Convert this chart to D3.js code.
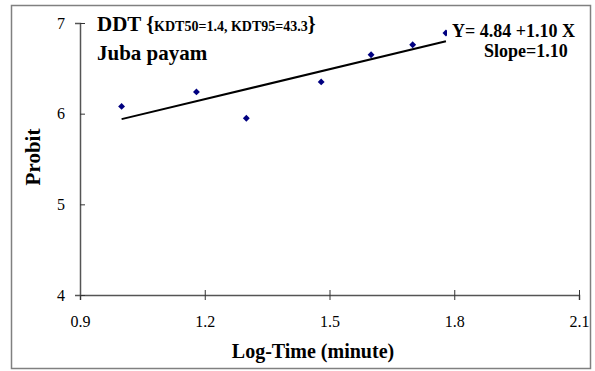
<!DOCTYPE html>
<html>
<head>
<meta charset="utf-8">
<script src="https://cdn.jsdelivr.net/npm/d3@7"></script>
<style>
  body { margin: 0; background: #fff; }
  text { font-family: "Liberation Serif", "Times New Roman", serif; }
</style>
</head>
<body>
<div id="chart"></div>
<script>
// data
const logTime = [1.00, 1.18, 1.30, 1.48, 1.60, 1.70, 1.78];
const probit  = [6.08, 6.24, 5.95, 6.35, 6.65, 6.76, 6.89];
const xTicks = [0.9, 1.2, 1.5, 1.8, 2.1];
const yTicks = [4, 5, 6, 7];
const intercept = 4.84, slope = 1.10;
const fitRange = [1.00, 1.78];

const W = 595, H = 371;
const margin = {top: 23, left: 80};
const width = 579 - margin.left,
      height = 295 - margin.top;

const svg = d3.select("#chart").append("svg")
    .attr("width", W).attr("height", H);

// outer frame
svg.append("rect")
    .attr("x", 11.5).attr("y", 5.5)
    .attr("width", 579).attr("height", 363)
    .attr("fill", "#fff").attr("stroke", "#808080").attr("stroke-width", 1.5);

const g = svg.append("g")
    .attr("transform", `translate(${margin.left}, ${margin.top})`);

const x = d3.scaleLinear().domain([0.9, 2.1]).range([0, width]);
const y = d3.scaleLinear().domain([4, 7]).range([height, 0]);

// axes with crossing ticks like the original
const xAxis = g.append("g")
    .attr("transform", `translate(0, ${height})`)
    .call(d3.axisBottom(x).tickValues(xTicks).tickSize(5).tickFormat(d3.format(".1f")));
xAxis.selectAll(".tick line").attr("y1", -5);
xAxis.selectAll("text").attr("y", 32).attr("dy", 0);

const yAxis = g.append("g")
    .call(d3.axisLeft(y).tickValues(yTicks).tickSize(5).tickFormat(d3.format("d")));
yAxis.selectAll(".tick line").attr("x2", 5);
yAxis.selectAll("text").attr("x", -15);

[xAxis, yAxis].forEach(a => {
  a.select(".domain").attr("stroke", "#555").attr("stroke-width", 1.5);
  a.selectAll(".tick line").attr("stroke", "#333");
  a.selectAll("text")
    .style("font-family", "Liberation Serif, serif")
    .style("font-size", "16px").attr("fill", "#000");
});

// fitted line
const fit = fitRange.map(v => [v, intercept + slope * v]);
g.append("path")
    .datum(fit)
    .attr("fill", "none").attr("stroke", "#000").attr("stroke-width", 2)
    .attr("d", d3.line().x(d => x(d[0])).y(d => y(d[1])));

// points
g.selectAll(".dot")
  .data(logTime.map((v, i) => [v, probit[i]]))
  .enter().append("path")
    .attr("class", "dot")
    .attr("transform", d => `translate(${x(d[0])}, ${y(d[1])})`)
    .attr("d", d3.symbol().type(d3.symbolDiamond2).size(30))
    .attr("fill", "#000080");

// equation label (white box clips the last marker, as in the original)
svg.append("rect")
    .attr("x", 447).attr("y", 22).attr("width", 140).attr("height", 40)
    .attr("fill", "#fff");
svg.append("text")
    .attr("x", 452).attr("y", 37)
    .style("font-size", "18px").style("font-weight", "bold")
    .text("Y= 4.84 +1.10 X");
svg.append("text")
    .attr("x", 484).attr("y", 57)
    .style("font-size", "18px").style("font-weight", "bold")
    .text("Slope=1.10");

// title
const t = svg.append("text")
    .attr("x", 97).attr("y", 31)
    .style("font-weight", "bold");
t.append("tspan").style("font-size", "21px").text("DDT ");
t.append("tspan").style("font-size", "20px").text("{");
t.append("tspan").style("font-size", "14px").text("KDT50=1.4, KDT95=43.3");
t.append("tspan").style("font-size", "20px").text("}");
svg.append("text")
    .attr("x", 97).attr("y", 60)
    .style("font-size", "21px").style("font-weight", "bold")
    .text("Juba payam");

// axis titles
svg.append("text")
    .attr("text-anchor", "middle")
    .attr("x", 313).attr("y", 358)
    .style("font-size", "20px").style("font-weight", "bold")
    .text("Log-Time (minute)");
svg.append("text")
    .attr("text-anchor", "middle")
    .attr("transform", "translate(40, 157) rotate(-90)")
    .style("font-size", "21px").style("font-weight", "bold")
    .text("Probit");
</script>
</body>
</html>
